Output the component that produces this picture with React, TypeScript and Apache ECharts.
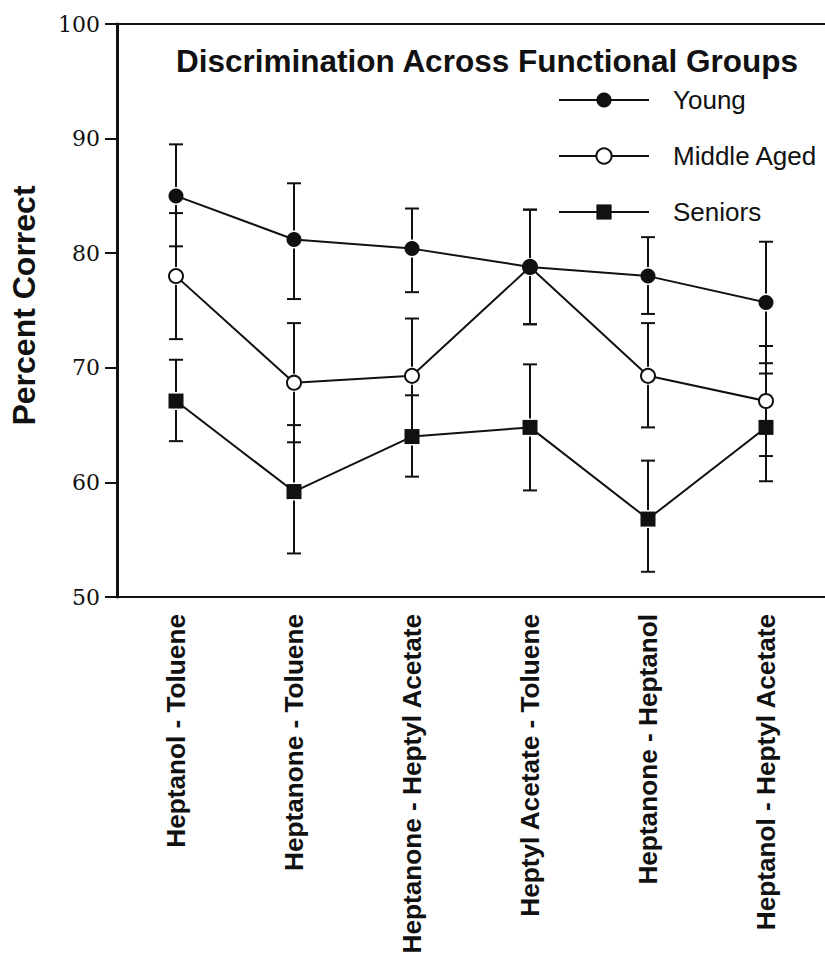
import React, { useEffect, useRef } from "react";
import * as echarts from "echarts";

const categories = [
  "Heptanol - Toluene",
  "Heptanone - Toluene",
  "Heptanone - Heptyl Acetate",
  "Heptyl Acetate - Toluene",
  "Heptanone - Heptanol",
  "Heptanol - Heptyl Acetate",
];

const youngMean = [85.0, 81.2, 80.4, 78.8, 78.0, 75.7];
const youngHigh = [89.5, 86.1, 83.9, 83.8, 81.4, 81.0];
const youngLow = [80.6, 76.0, 76.6, 73.8, 74.7, 70.4];

const middleMean = [78.0, 68.7, 69.3, 78.8, 69.3, 67.1];
const middleHigh = [83.5, 73.9, 74.3, 83.8, 73.9, 71.9];
const middleLow = [72.5, 63.5, 64.2, 73.8, 64.8, 62.3];

const seniorsMean = [67.1, 59.2, 64.0, 64.8, 56.8, 64.8];
const seniorsHigh = [70.7, 65.0, 67.6, 70.3, 61.9, 69.5];
const seniorsLow = [63.6, 53.8, 60.5, 59.3, 52.2, 60.1];

const yTicks = { min: 50, max: 100, interval: 10 };

const INK = "#111111";

function errorData(mean: number[], low: number[], high: number[]) {
  return mean.map((m, i) => [i, low[i], high[i], m]);
}

function errorSeries(name: string, data: number[][]) {
  return {
    type: "custom",
    name: name + " error",
    xAxisIndex: 0,
    yAxisIndex: 0,
    z: 1,
    silent: true,
    encode: { x: 0, y: [1, 2] },
    data,
    renderItem: (params: any, api: any) => {
      const x = api.value(0);
      const pLow = api.coord([x, api.value(1)]);
      const pHigh = api.coord([x, api.value(2)]);
      const pMean = api.coord([x, api.value(3)]);
      const cx = pMean[0];
      const gap = 9;
      const cap = 7;
      const style = { stroke: INK, lineWidth: 2, fill: "none" };
      const children: any[] = [];
      if (pMean[1] - gap > pHigh[1]) {
        children.push({ type: "line", shape: { x1: cx, y1: pHigh[1], x2: cx, y2: pMean[1] - gap }, style });
      }
      if (pMean[1] + gap < pLow[1]) {
        children.push({ type: "line", shape: { x1: cx, y1: pMean[1] + gap, x2: cx, y2: pLow[1] }, style });
      }
      children.push({ type: "line", shape: { x1: cx - cap, y1: pHigh[1], x2: cx + cap, y2: pHigh[1] }, style });
      children.push({ type: "line", shape: { x1: cx - cap, y1: pLow[1], x2: cx + cap, y2: pLow[1] }, style });
      return { type: "group", children };
    },
  };
}

export default function App() {
  const ref = useRef<HTMLDivElement>(null);

  useEffect(() => {
    if (!ref.current) return;
    document.documentElement.style.overflow = "hidden";
    document.body.style.overflow = "hidden";
    const chart = echarts.init(ref.current, null, { renderer: "svg" });
    const sans = "'Liberation Sans', Arial, Helvetica, sans-serif";
    const serif = "'DejaVu Serif', 'Liberation Serif', serif";

    const option: any = {
      animation: false,
      backgroundColor: "#ffffff",
      title: {
        text: "Discrimination Across Functional Groups",
        left: 171,
        top: 40,
        textStyle: { fontFamily: sans, fontWeight: "bold", fontSize: 31.5, color: INK },
      },
      legend: {
        orient: "vertical",
        left: 553,
        top: 82,
        itemWidth: 90,
        itemHeight: 19,
        itemGap: 30,
        data: ["Young", "Middle Aged", "Seniors"],
        textStyle: {
          fontFamily: sans,
          fontSize: 26,
          lineHeight: 26,
          color: INK,
          padding: [0, 0, 0, 19],
        },
      },
      grid: { left: 117, top: 24, width: 720, height: 573 },
      xAxis: [
        {
          type: "category",
          data: categories,
          position: "bottom",
          boundaryGap: true,
          axisLine: { show: true, lineStyle: { color: INK, width: 2 } },
          axisTick: { show: false },
          splitLine: { show: false },
          axisLabel: {
            rotate: 90,
            interval: 0,
            margin: 17,
            fontFamily: sans,
            fontWeight: "bold",
            fontSize: 26.2,
            color: INK,
          },
        },
        {
          type: "category",
          data: categories,
          position: "top",
          axisLine: { show: true, lineStyle: { color: INK, width: 2 } },
          axisTick: { show: false },
          axisLabel: { show: false },
          splitLine: { show: false },
        },
      ],
      yAxis: {
        type: "value",
        min: yTicks.min,
        max: yTicks.max,
        interval: yTicks.interval,
        name: "Percent Correct",
        nameLocation: "middle",
        nameGap: 77,
        nameTextStyle: {
          fontFamily: sans,
          fontWeight: "bold",
          fontSize: 32,
          color: INK,
          padding: [0, 0, 0, 10],
        },
        axisLine: { show: true, lineStyle: { color: INK, width: 3 } },
        axisTick: { show: true, inside: false, length: 12, lineStyle: { color: INK, width: 2 } },
        splitLine: { show: false },
        axisLabel: { margin: 17, fontFamily: serif, fontSize: 22, color: INK },
      },
      series: [
        errorSeries("Seniors", errorData(seniorsMean, seniorsLow, seniorsHigh)),
        errorSeries("Middle Aged", errorData(middleMean, middleLow, middleHigh)),
        errorSeries("Young", errorData(youngMean, youngLow, youngHigh)),
        {
          type: "line",
          name: "Seniors",
          data: seniorsMean,
          z: 3,
          symbol: "rect",
          symbolSize: 15,
          showAllSymbol: true,
          lineStyle: { color: INK, width: 2 },
          itemStyle: { color: INK, borderColor: INK, borderWidth: 0 },
        },
        {
          type: "line",
          name: "Middle Aged",
          data: middleMean,
          z: 4,
          symbol: "circle",
          symbolSize: 14,
          showAllSymbol: true,
          lineStyle: { color: INK, width: 2 },
          itemStyle: { color: "#ffffff", borderColor: INK, borderWidth: 2 },
        },
        {
          type: "line",
          name: "Young",
          data: youngMean,
          z: 5,
          symbol: "circle",
          symbolSize: 15,
          showAllSymbol: true,
          lineStyle: { color: INK, width: 2 },
          itemStyle: { color: INK, borderColor: INK, borderWidth: 0 },
        },
      ],
    };

    chart.setOption(option);
    return () => chart.dispose();
  }, []);

  return (
    <div
      ref={ref}
      style={{
        position: "fixed",
        left: 0,
        top: 0,
        width: 825,
        height: 967,
        overflow: "hidden",
        background: "#fff",
      }}
    />
  );
}
